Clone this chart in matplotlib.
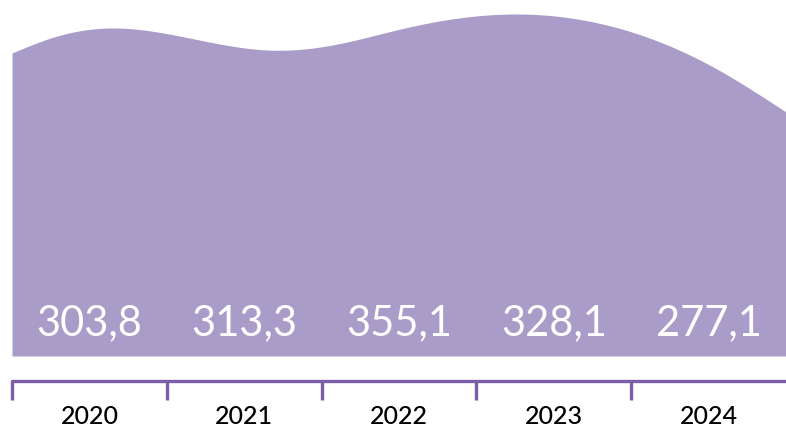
import numpy as np
import matplotlib
matplotlib.use("Agg")
import matplotlib.pyplot as plt

years = ["2020", "2021", "2022", "2023", "2024"]
values = [303.8, 313.3, 355.1, 328.1, 277.1]
value_labels = ["303,8", "313,3", "355,1", "328,1", "277,1"]

# decorative wave on top of the area
# (position in category units, height above the baseline in px)
wave_x = [0.0, 0.25, 0.63, 1.21, 1.65, 2.07, 2.51, 3.24, 4.10, 4.53, 5.0]
wave_top = [303, 318, 328, 316, 306, 311, 327, 342, 319, 289, 244]

FILL = "#a99cc9"
AXIS = "#7b5ea7"


def spline(xs, ys, n=600):
    # natural cubic spline through the wave knots
    xs = np.asarray(xs, float)
    ys = np.asarray(ys, float)
    k = len(xs)
    h = np.diff(xs)
    A = np.zeros((k, k))
    b = np.zeros(k)
    A[0, 0] = A[-1, -1] = 1
    for i in range(1, k - 1):
        A[i, i - 1] = h[i - 1]
        A[i, i] = 2 * (h[i - 1] + h[i])
        A[i, i + 1] = h[i]
        b[i] = 6 * ((ys[i + 1] - ys[i]) / h[i] - (ys[i] - ys[i - 1]) / h[i - 1])
    m = np.linalg.solve(A, b)
    gx = np.linspace(xs[0], xs[-1], n)
    j = np.clip(np.searchsorted(xs, gx) - 1, 0, k - 2)
    t1 = xs[j + 1] - gx
    t0 = gx - xs[j]
    hj = h[j]
    gy = (m[j] * t1 ** 3 / (6 * hj) + m[j + 1] * t0 ** 3 / (6 * hj)
          + (ys[j] / hj - m[j] * hj / 6) * t1 + (ys[j + 1] / hj - m[j + 1] * hj / 6) * t0)
    return gx, gy


fig = plt.figure(figsize=(7.86, 4.32), dpi=100)
ax = fig.add_axes([12 / 786, (432 - 356) / 432, 774 / 786, 356 / 432])

sx, sy = spline(wave_x, wave_top)
ax.fill_between(sx, 0, sy, color=FILL, lw=0)

for i, lab in enumerate(value_labels):
    ax.text(i + 0.5, 33, lab, ha="center", va="center", color="white",
            fontsize=30, family=["Lato", "DejaVu Sans"])

ax.set_xlim(0, 5)
ax.set_ylim(0, 356)
for s in ("top", "left", "right"):
    ax.spines[s].set_visible(False)
ax.spines["bottom"].set_position(("outward", 18))
ax.spines["bottom"].set_color(AXIS)
ax.spines["bottom"].set_linewidth(2.4)
ax.spines["bottom"].set_capstyle("round")
ax.set_yticks([])
ax.set_xticks(range(5))
ax.set_xticklabels([])
ax.tick_params(axis="x", which="major", direction="out", length=14, width=2.4, color=AXIS)
ax.set_xticks(np.arange(5) + 0.5, minor=True)
ax.set_xticklabels(years, minor=True, fontsize=18, fontweight="medium",
                   family=["Lato", "DejaVu Sans"])
ax.tick_params(axis="x", which="minor", length=0, pad=17)
ax.patch.set_visible(False)

fig.savefig("out.png", dpi=100)
